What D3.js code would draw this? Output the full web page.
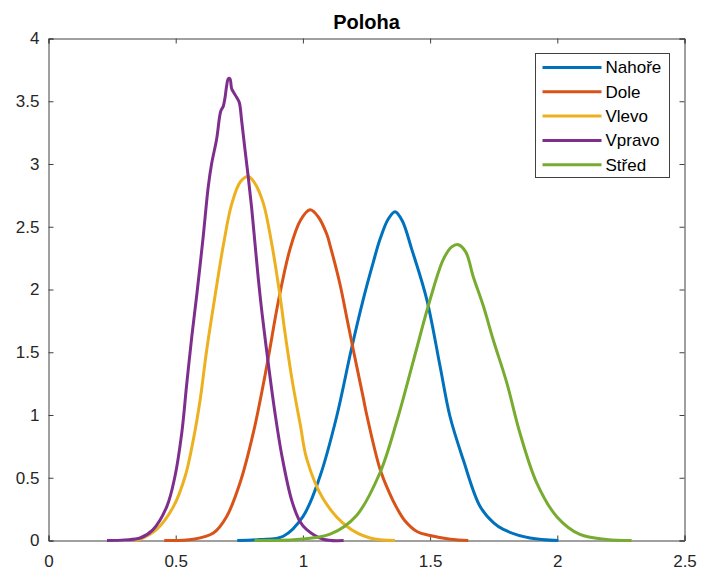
<!DOCTYPE html>
<html>
<head>
<meta charset="utf-8">
<script src="https://cdn.jsdelivr.net/npm/d3@7"></script>
<style>
  body { margin: 0; background: #fff; }
  svg { font-family: "Liberation Sans", Arial, Helvetica, sans-serif; }
  .axis path, .axis line { stroke: #404040; }
  .axis text { fill: #262626; font-size: 17px; }
</style>
</head>
<body>
<div id="container"></div>
<script>
// series names and colours (MATLAB default order)
const seriesNames = ["Nahoře", "Dole", "Vlevo", "Vpravo", "Střed"];
const seriesColors = ["#0072BD", "#D95319", "#EDB120", "#7E2F8E", "#77AC30"];

// curves, [x, density]
const nahore = [[0.742,0],[0.831,0.008],[0.923,0.034],[1.0,0.19],[1.067,0.51],[1.133,0.99],[1.19,1.52],[1.237,1.92],[1.277,2.22],[1.303,2.40],[1.335,2.56],[1.362,2.62],[1.39,2.55],[1.428,2.32],[1.487,1.92],[1.539,1.39],[1.578,0.99],[1.63,0.645],[1.696,0.273],[1.75,0.14],[1.788,0.088],[1.893,0.02],[2.004,0]];
const dole = [[0.455,0],[0.569,0.01],[0.648,0.06],[0.70,0.19],[0.753,0.46],[0.805,0.857],[0.858,1.39],[0.903,1.9],[0.949,2.32],[0.99,2.55],[1.028,2.635],[1.06,2.58],[1.094,2.44],[1.107,2.35],[1.146,2.04],[1.172,1.78],[1.198,1.52],[1.237,1.14],[1.251,1.0],[1.303,0.57],[1.34,0.38],[1.369,0.26],[1.40,0.16],[1.45,0.07],[1.5,0.04],[1.58,0.01],[1.65,0]];
const vlevo = [[0.34,0],[0.36,0.01],[0.425,0.088],[0.491,0.27],[0.537,0.51],[0.569,0.80],[0.596,1.12],[0.622,1.52],[0.654,1.94],[0.687,2.35],[0.72,2.68],[0.755,2.86],[0.785,2.90],[0.810,2.85],[0.844,2.69],[0.877,2.37],[0.91,1.95],[0.93,1.65],[0.96,1.25],[0.99,0.92],[1.015,0.65],[1.08,0.33],[1.172,0.114],[1.264,0.02],[1.362,0]];
const vpravo = [[0.23,0],[0.30,0.005],[0.36,0.02],[0.41,0.085],[0.465,0.27],[0.497,0.51],[0.524,0.86],[0.543,1.24],[0.563,1.62],[0.583,1.96],[0.608,2.42],[0.628,2.82],[0.641,3.0],[0.661,3.2],[0.677,3.42],[0.687,3.46],[0.694,3.53],[0.700,3.62],[0.707,3.68],[0.713,3.68],[0.720,3.6],[0.728,3.57],[0.740,3.53],[0.750,3.49],[0.759,3.35],[0.772,3.12],[0.785,2.90],[0.799,2.64],[0.812,2.36],[0.825,2.08],[0.840,1.80],[0.871,1.30],[0.890,1.02],[0.917,0.68],[0.956,0.32],[0.989,0.15],[1.015,0.087],[1.08,0.01],[1.16,0]];
const stred = [[0.81,0],[0.976,0.008],[1.107,0.05],[1.211,0.2],[1.303,0.54],[1.369,0.95],[1.434,1.43],[1.5,1.92],[1.552,2.24],[1.585,2.34],[1.611,2.357],[1.64,2.3],[1.67,2.10],[1.709,1.87],[1.748,1.60],[1.801,1.26],[1.853,0.857],[1.919,0.46],[1.998,0.19],[2.089,0.048],[2.194,0.008],[2.292,0]];

const seriesData = [nahore, dole, vlevo, vpravo, stred];

// axes ticks
const xTicks = [0, 0.5, 1, 1.5, 2, 2.5];
const xTickLabels = ["0", "0.5", "1", "1.5", "2", "2.5"];
const yTicks = [0, 0.5, 1, 1.5, 2, 2.5, 3, 3.5, 4];
const yTickLabels = ["0", "0.5", "1", "1.5", "2", "2.5", "3", "3.5", "4"];
const chartTitle = "Poloha";

const width = 701;
const height = 570;
const plotLeft = 48.5, plotRight = 684.5, plotTop = 38.5, plotBottom = 540.5;

let x = d3.scaleLinear().domain([0, 2.5]).range([plotLeft, plotRight]);
let y = d3.scaleLinear().domain([0, 4]).range([plotBottom, plotTop]);

let svg = d3.select("#container").append("svg")
    .attr("width", width)
    .attr("height", height)
    .attr("viewBox", `0 0 ${width} ${height}`);

// axes, ticks pointing inward on all four sides
svg.append("g")
    .attr("class", "axis")
    .attr("transform", `translate(0,${plotBottom})`)
    .call(d3.axisBottom(x).tickValues(xTicks).tickSize(-5).tickPadding(14)
        .tickFormat((d, i) => xTickLabels[i]));

svg.append("g")
    .attr("class", "axis")
    .attr("transform", `translate(0,${plotTop})`)
    .call(d3.axisTop(x).tickValues(xTicks).tickSize(-5).tickFormat(""));

svg.append("g")
    .attr("class", "axis")
    .attr("transform", `translate(${plotLeft},0)`)
    .call(d3.axisLeft(y).tickValues(yTicks).tickSize(-5).tickPadding(9)
        .tickFormat((d, i) => yTickLabels[i]));

svg.append("g")
    .attr("class", "axis")
    .attr("transform", `translate(${plotRight},0)`)
    .call(d3.axisRight(y).tickValues(yTicks).tickSize(-5).tickFormat(""));

svg.selectAll(".axis path").attr("stroke", "#404040");
svg.selectAll(".axis text").attr("font-family", null).attr("font-size", null);

// curves
let line = d3.line()
    .x(d => x(d[0]))
    .y(d => y(d[1]))
    .curve(d3.curveCatmullRom.alpha(0.5));

svg.append("g")
    .selectAll("path")
    .data(seriesData)
    .join("path")
    .attr("fill", "none")
    .attr("stroke", (d, i) => seriesColors[i])
    .attr("stroke-width", 3)
    .attr("stroke-linejoin", "round")
    .attr("d", line);

// title
svg.append("text")
    .attr("x", (plotLeft + plotRight) / 2)
    .attr("y", 29)
    .attr("text-anchor", "middle")
    .attr("font-size", 20)
    .attr("font-weight", "bold")
    .attr("fill", "#000")
    .text(chartTitle);

// legend
let legend = svg.append("g").attr("transform", "translate(535.5,53.5)");
legend.append("rect")
    .attr("width", 134)
    .attr("height", 124)
    .attr("fill", "#fff")
    .attr("stroke", "#404040")
    .attr("stroke-width", 1);

let item = legend.selectAll("g.item")
    .data(seriesNames)
    .join("g")
    .attr("class", "item")
    .attr("transform", (d, i) => `translate(0,${14 + i * 24.3})`);

item.append("line")
    .attr("x1", 7)
    .attr("x2", 66)
    .attr("stroke", (d, i) => seriesColors[i])
    .attr("stroke-width", 3);

item.append("text")
    .attr("x", 70)
    .attr("dy", "0.35em")
    .attr("font-size", 17)
    .attr("fill", "#000")
    .text(d => d);
</script>
</body>
</html>
